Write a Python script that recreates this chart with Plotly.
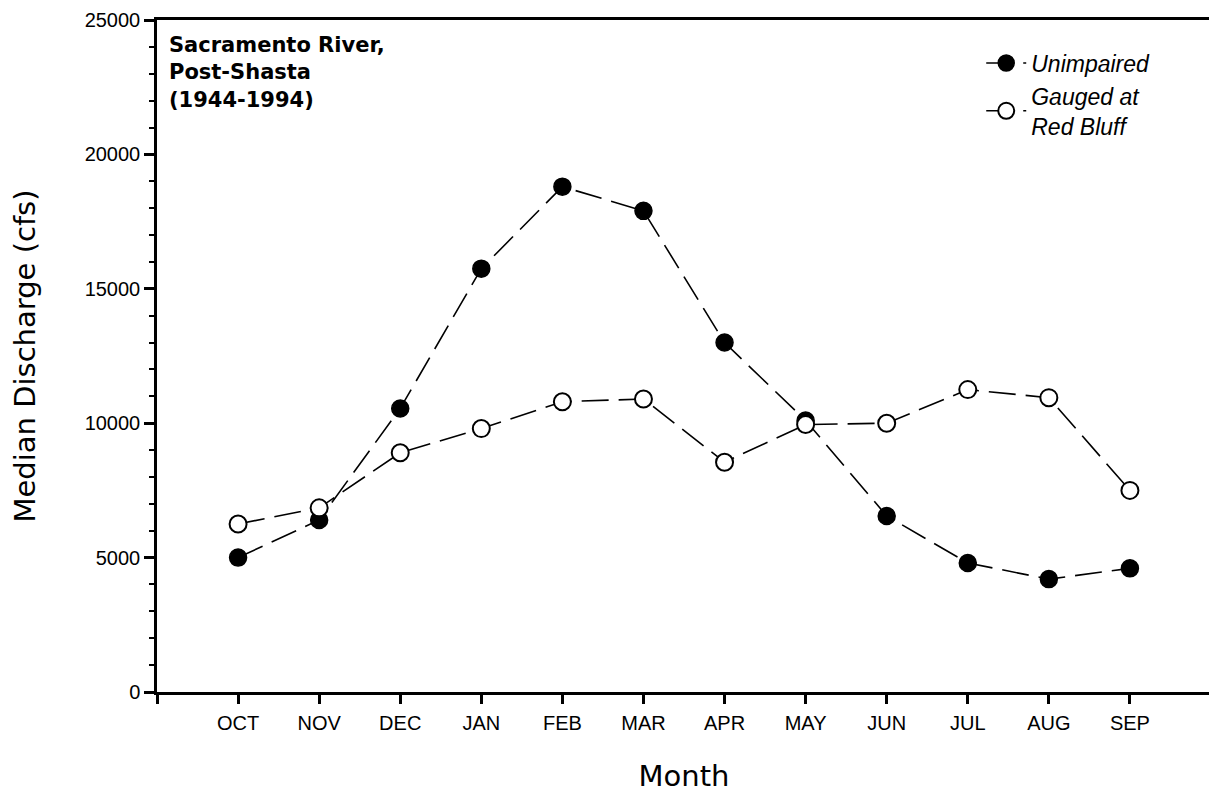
import plotly.graph_objects as go

months = ["OCT", "NOV", "DEC", "JAN", "FEB", "MAR", "APR", "MAY", "JUN", "JUL", "AUG", "SEP"]
unimpaired = [5000, 6400, 10550, 15750, 18800, 17900, 13000, 10100, 6550, 4800, 4200, 4600]
gauged = [6250, 6850, 8900, 9800, 10800, 10900, 8550, 9950, 10000, 11250, 10950, 7500]
x_idx = list(range(len(months)))

line_style = dict(color="black", width=1.6, dash="27px,10px")

fig = go.Figure()
fig.add_trace(go.Scatter(
    x=x_idx, y=unimpaired, mode="lines+markers", name="Unimpaired",
    line=line_style,
    marker=dict(symbol="circle", size=17, color="black", line=dict(color="black", width=1.5)),
))
fig.add_trace(go.Scatter(
    x=x_idx, y=gauged, mode="lines+markers", name="Gauged at<br>Red Bluff",
    line=line_style,
    marker=dict(symbol="circle", size=17, color="white", line=dict(color="black", width=2)),
))
# helper trace for right-side mirrored minor ticks
fig.add_trace(go.Scatter(x=[None], y=[None], yaxis="y2", showlegend=False, hoverinfo="skip"))

tickvals = [-1] + x_idx + [len(months)]
ticktext = [""] + months + [""]

fig.update_layout(
    width=1209, height=786,
    margin=dict(l=149, r=6, t=12, b=102),
    paper_bgcolor="white", plot_bgcolor="white",
    showlegend=True,
    legend=dict(
        x=0.782, y=0.968, xanchor="left", yanchor="top",
        font=dict(family="Liberation Sans", size=23, color="black", style="italic"),
        bgcolor="rgba(0,0,0,0)", tracegroupgap=0, itemwidth=40,
    ),
    xaxis=dict(
        range=[-1, len(months)], tickmode="array", tickvals=tickvals, ticktext=ticktext,
        showgrid=False, zeroline=False, showline=True, linecolor="black", linewidth=2.5,
        mirror=True, ticks="outside", ticklen=9, tickwidth=2.5, tickcolor="black",
        tickfont=dict(family="Liberation Sans", size=20, color="black"),
        ticklabelstandoff=2,
        automargin=False,
        title=dict(text="Month", font=dict(family="DejaVu Sans", size=29, color="black"), standoff=33),
    ),
    yaxis=dict(
        range=[0, 25000], tickmode="linear", tick0=0, dtick=5000, tickformat="d",
        showgrid=False, zeroline=False, showline=True, linecolor="black", linewidth=2.5,
        ticks="outside", ticklen=10, tickwidth=2.5, tickcolor="black",
        minor=dict(ticks="outside", ticklen=5, tickwidth=2, tickcolor="black", dtick=1000, showgrid=False),
        tickfont=dict(family="Liberation Sans", size=20, color="black"),
        automargin=False,
        title=dict(text="Median Discharge (cfs)", font=dict(family="DejaVu Sans", size=29, color="black"), standoff=44),
    ),
    yaxis2=dict(
        overlaying="y", side="right", range=[0, 25000], tickmode="linear", tick0=0, dtick=1000,
        showgrid=False, zeroline=False, showline=False, showticklabels=False,
        ticks="outside", ticklen=4, tickwidth=2, tickcolor="black", automargin=False,
    ),
)

fig.add_annotation(
    xref="paper", yref="paper", x=0.0097, y=0.983, xanchor="left", yanchor="top",
    text="<b>Sacramento River,<br>Post-Shasta<br>(1944-1994)</b>",
    showarrow=False, align="left",
    font=dict(family="DejaVu Sans", size=21, color="black"),
)

fig.write_html("out.html")
